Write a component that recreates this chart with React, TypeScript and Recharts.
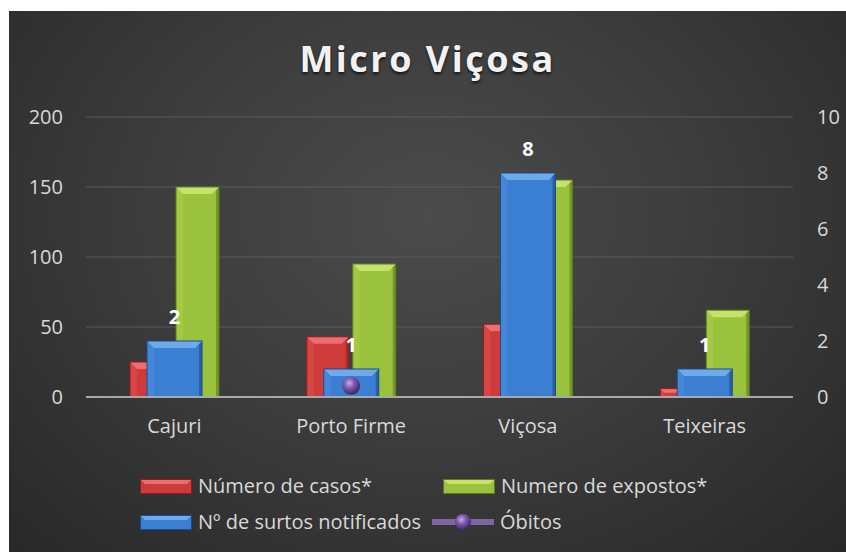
import { ComposedChart, Bar, Line, XAxis, YAxis, CartesianGrid, LabelList } from "recharts";

const municipios = ["Cajuri", "Porto Firme", "Viçosa", "Teixeiras"];
const numeroCasos = [25, 43, 52, 6];
const numeroExpostos = [150, 95, 155, 62];
const surtosNotificados = [2, 1, 8, 1];
const obitos: (number | null)[] = [null, 8, null, null];
const ticksEsquerda = [0, 50, 100, 150, 200];
const ticksDireita = [0, 2, 4, 6, 8, 10];

const data = municipios.map((name, i) => ({
  name,
  casos: numeroCasos[i],
  expostos: numeroExpostos[i],
  surtos: surtosNotificados[i],
  obitos: obitos[i],
}));

const vermelho = { base: "#cf3a3a", topo: "#ec6e6e", lado: "#e05050", escuro: "#8c1e1e" };
const verde = { base: "#9bc23c", topo: "#c5e26c", lado: "#abd04c", escuro: "#5c7a1c" };
const azul = { base: "#3b7fd2", topo: "#6eaaec", lado: "#4d90e0", escuro: "#1d4a88" };

const fonte = "'Open Sans', sans-serif";
const corTexto = "#d9d9d9";

// barra com efeito de bisel, parecido com o estilo do Excel
function barraBisel(c: typeof azul) {
  return (props: any) => {
    const { x, y, width, height } = props;
    if (!height || height <= 0) return <g />;
    const b = Math.min(7, width / 4, height / 2);
    return (
      <g>
        <rect x={x} y={y} width={width} height={height} fill={c.base} />
        <polygon points={`${x},${y} ${x + b},${y + b} ${x + b},${y + height} ${x},${y + height}`} fill={c.lado} opacity={0.5} />
        <polygon
          points={`${x + width},${y} ${x + width - 3},${y + 3} ${x + width - 3},${y + height} ${x + width},${y + height}`}
          fill={c.escuro}
          opacity={0.6}
        />
        <polygon points={`${x},${y} ${x + width},${y} ${x + width - b},${y + b} ${x + b},${y + b}`} fill={c.topo} />
        <rect x={x} y={y} width={width} height={height} fill="none" stroke={c.escuro} strokeWidth={1} />
      </g>
    );
  };
}

function Esfera({ cx, cy, r }: { cx: number; cy: number; r: number }) {
  return (
    <g>
      <defs>
        <radialGradient id={`esf${cx}${cy}`} cx="40%" cy="35%" r="65%">
          <stop offset="0%" stopColor="#c7aee8" />
          <stop offset="45%" stopColor="#7b58ad" />
          <stop offset="100%" stopColor="#3e2766" />
        </radialGradient>
      </defs>
      <circle cx={cx} cy={cy} r={r} fill={`url(#esf${cx}${cy})`} />
    </g>
  );
}

function IconeBarra({ c }: { c: typeof azul }) {
  return (
    <svg width={52} height={15} style={{ display: "block" }}>
      <rect x={0.5} y={0.5} width={51} height={14} fill={c.base} stroke={c.escuro} />
      <polygon points="1,1 51,1 47,5 5,5" fill={c.topo} />
    </svg>
  );
}

function IconeLinha() {
  return (
    <svg width={62} height={20} style={{ display: "block" }}>
      <line x1={0} y1={10} x2={62} y2={10} stroke="#8064a2" strokeWidth={6} strokeLinecap="round" />
      <Esfera cx={31} cy={10} r={8} />
    </svg>
  );
}

function Legenda() {
  const item = (left: number, top: number, icone: any, texto: string) => (
    <div style={{ position: "absolute", left, top, display: "flex", alignItems: "center", gap: 6 }}>
      {icone}
      <span style={{ color: corTexto, fontSize: 20, fontFamily: fonte, lineHeight: "24px", whiteSpace: "nowrap" }}>{texto}</span>
    </div>
  );
  return (
    <>
      {item(131, 463, <IconeBarra c={vermelho} />, "Número de casos*")}
      {item(434, 463, <IconeBarra c={verde} />, "Numero de expostos*")}
      {item(131, 499, <IconeBarra c={azul} />, "Nº de surtos notificados")}
      {item(423, 499, <IconeLinha />, "Óbitos")}
    </>
  );
}

export default function App() {
  return (
    <div style={{ position: "absolute", left: 0, top: 0, width: 846, height: 552, background: "#ffffff", overflow: "hidden" }}>
      <div
        style={{
          position: "absolute",
          left: 9,
          top: 11,
          width: 837,
          height: 541,
          background: "radial-gradient(ellipse at 50% 38%, #4b4b4b 0%, #3d3d3d 45%, #282828 100%)",
          fontFamily: fonte,
        }}
      >
        <div
          style={{
            position: "absolute",
            left: 0,
            width: 837,
            top: 30,
            textAlign: "center",
            fontSize: 36,
            lineHeight: 1,
            fontWeight: 700,
            letterSpacing: 2.5,
            color: "#f2f2f2",
            textShadow: "0 2px 3px rgba(0,0,0,0.7)",
          }}
        >
          Micro Viçosa
        </div>
        <ComposedChart width={837} height={541} data={data} margin={{ top: 106, right: 0, left: 0, bottom: 115 }}>
          <CartesianGrid yAxisId="esq" xAxisId="principal" vertical={false} stroke="#5a5a5a" strokeWidth={1} />
          <XAxis
            xAxisId="principal"
            dataKey="name"
            height={40}
            tickLine={false}
            tickSize={0}
            tickMargin={22}
            axisLine={{ stroke: "#a9a9a9", strokeWidth: 2 }}
            tick={{ fill: corTexto, fontSize: 20, fontFamily: fonte }}
          />
          <XAxis xAxisId="secundario" dataKey="name" hide />
          <YAxis
            yAxisId="esq"
            width={77}
            domain={[0, 200]}
            ticks={ticksEsquerda}
            axisLine={false}
            tickLine={false}
            tickSize={0}
            tickMargin={23}
            tick={{ fill: corTexto, fontSize: 20, fontFamily: fonte }}
          />
          <YAxis
            yAxisId="dir"
            orientation="right"
            width={53}
            domain={[0, 10]}
            ticks={ticksDireita}
            axisLine={false}
            tickLine={false}
            tickSize={0}
            tickMargin={24}
            tick={{ fill: corTexto, fontSize: 20, fontFamily: fonte, textAnchor: "start" }}
          />
          <Bar
            dataKey="casos"
            name="Número de casos*"
            xAxisId="principal"
            yAxisId="esq"
            barSize={42}
            shape={barraBisel(vermelho)}
            isAnimationActive={false}
          />
          <Bar
            dataKey="expostos"
            name="Numero de expostos*"
            xAxisId="principal"
            yAxisId="esq"
            barSize={43}
            shape={barraBisel(verde)}
            isAnimationActive={false}
          />
          <Bar
            dataKey="surtos"
            name="Nº de surtos notificados"
            xAxisId="secundario"
            yAxisId="dir"
            barSize={55}
            shape={barraBisel(azul)}
            isAnimationActive={false}
          >
            <LabelList dataKey="surtos" position="top" offset={17} fill="#ffffff" fontSize={20} fontWeight={700} fontFamily={fonte} />
          </Bar>
          <Line
            dataKey="obitos"
            name="Óbitos"
            xAxisId="principal"
            yAxisId="esq"
            stroke="#8064a2"
            strokeWidth={5}
            connectNulls={false}
            isAnimationActive={false}
            dot={(p: any) =>
              p.value == null || p.cy == null ? <g key={p.index} /> : <g key={p.index}><Esfera cx={p.cx} cy={p.cy} r={9} /></g>
            }
            activeDot={false}
          />
        </ComposedChart>
        <Legenda />
      </div>
    </div>
  );
}
